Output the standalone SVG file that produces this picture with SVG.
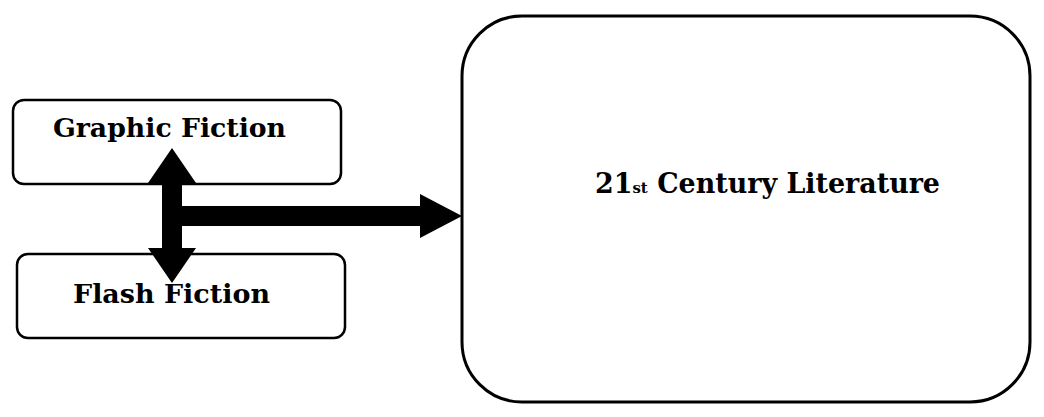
<svg xmlns="http://www.w3.org/2000/svg" width="1044" height="417" viewBox="0 0 1044 417">
<style>
.box{fill:#fff;stroke:#000;stroke-width:2.5}
.big{fill:#fff;stroke:#000;stroke-width:3}
.lbl{font-family:"DejaVu Serif","Liberation Serif",serif;font-weight:bold;fill:#000}
.arr{fill:#000;stroke:none}
</style>
<rect width="1044" height="417" fill="#fff"/>
<g id="node-literature">
<rect class="big" x="462" y="16" width="568" height="386" rx="60" ry="60"/>
<text class="lbl" x="595" y="193" font-size="27" textLength="345" lengthAdjust="spacingAndGlyphs">21<tspan font-size="15">st</tspan> Century Literature</text>
</g>
<g id="node-graphic">
<rect class="box" x="13" y="100" width="328" height="84" rx="11" ry="11"/>
<text class="lbl" x="53" y="137" font-size="25.5" textLength="233" lengthAdjust="spacingAndGlyphs">Graphic Fiction</text>
</g>
<g id="node-flash">
<rect class="box" x="17" y="254" width="328" height="84" rx="11" ry="11"/>
<text class="lbl" x="73" y="303" font-size="25.5" textLength="197" lengthAdjust="spacingAndGlyphs">Flash Fiction</text>
</g>
<g id="connectors">
<polygon class="arr" points="172,148 196,183 182,183 182,248 196,248 172,283 148,248 162,248 162,183 148,183"/>
<polygon class="arr" points="182,206 420,206 420,194 462,216 420,238 420,226 182,226"/>
</g>
</svg>
